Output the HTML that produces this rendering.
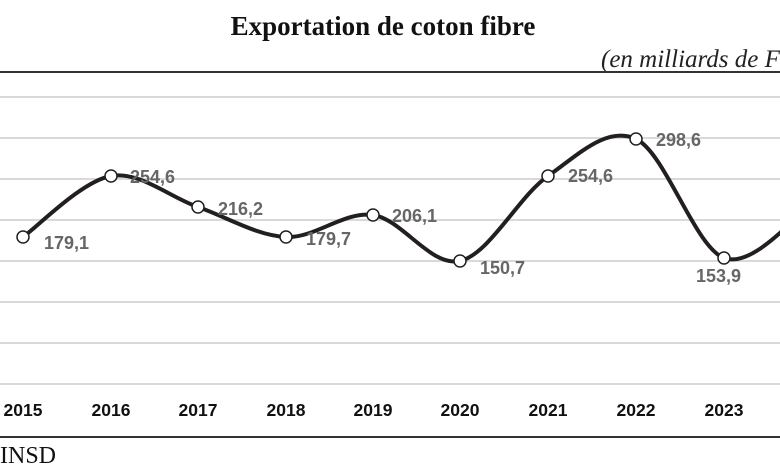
<!DOCTYPE html>
<html><head><meta charset="utf-8"><style>
html,body{margin:0;padding:0;background:#fff;width:780px;height:470px;overflow:hidden}
</style></head><body>
<svg id="s" width="780" height="470" viewBox="0 0 780 470" xmlns="http://www.w3.org/2000/svg">
<text x="383" y="35" text-anchor="middle" font-family="Liberation Serif, serif" font-weight="bold" font-size="27" fill="#111">Exportation de coton fibre</text>
<text x="601" y="67" font-family="Liberation Serif, serif" font-style="italic" font-size="25" fill="#222">(en milliards de FCFA)</text>
<line x1="0" y1="72" x2="780" y2="72" stroke="#333" stroke-width="2"/>
<g stroke="#d9d9d9" stroke-width="2">
<line x1="0" y1="97" x2="780" y2="97"/><line x1="0" y1="138" x2="780" y2="138"/>
<line x1="0" y1="179" x2="780" y2="179"/><line x1="0" y1="220" x2="780" y2="220"/>
<line x1="0" y1="261" x2="780" y2="261"/><line x1="0" y1="302" x2="780" y2="302"/>
<line x1="0" y1="343" x2="780" y2="343"/><line x1="0" y1="384" x2="780" y2="384"/>
</g>
<path id="p" fill="none" stroke="#231f20" stroke-width="4"/>
<g id="m"></g>
<g font-family="Liberation Sans, sans-serif" font-weight="bold" font-size="18" fill="#666">
<text x="44" y="249">179,1</text><text x="130" y="183">254,6</text><text x="218" y="215">216,2</text>
<text x="306" y="245">179,7</text><text x="392" y="222">206,1</text><text x="480" y="274">150,7</text>
<text x="568" y="182">254,6</text><text x="656" y="146">298,6</text><text x="696" y="282">153,9</text>
</g>
<g font-family="Liberation Sans, sans-serif" font-weight="bold" font-size="17.5" fill="#111" text-anchor="middle">
<text x="23" y="416">2015</text><text x="111" y="416">2016</text><text x="198" y="416">2017</text>
<text x="286" y="416">2018</text><text x="373" y="416">2019</text><text x="460" y="416">2020</text>
<text x="548" y="416">2021</text><text x="636" y="416">2022</text><text x="724" y="416">2023</text>
</g>
<line x1="0" y1="437" x2="780" y2="437" stroke="#333" stroke-width="2"/>
<text x="0" y="463" font-family="Liberation Serif, serif" font-size="24" fill="#111">INSD</text>
</svg>
<script>
var P=[[23,237],[111,176],[198,207],[286,237],[373,215],[460,261],[548,176],[636,139],[724,258],[811,205]];
var d="M"+P[0][0]+","+P[0][1];
for(var i=0;i<P.length-1;i++){
var p0=P[Math.max(i-1,0)],p1=P[i],p2=P[i+1],p3=P[Math.min(i+2,P.length-1)];
var c1=[p1[0]+(p2[0]-p0[0])/6,p1[1]+(p2[1]-p0[1])/6],c2=[p2[0]-(p3[0]-p1[0])/6,p2[1]-(p3[1]-p1[1])/6];
d+=" C"+c1+" "+c2+" "+p2;}
document.getElementById("p").setAttribute("d",d);
var m="";for(var i=0;i<9;i++)m+='<circle cx="'+P[i][0]+'" cy="'+P[i][1]+'" r="6" fill="#fff" stroke="#231f20" stroke-width="1.5"/>';
document.getElementById("m").innerHTML=m;
</script>
</body></html>
